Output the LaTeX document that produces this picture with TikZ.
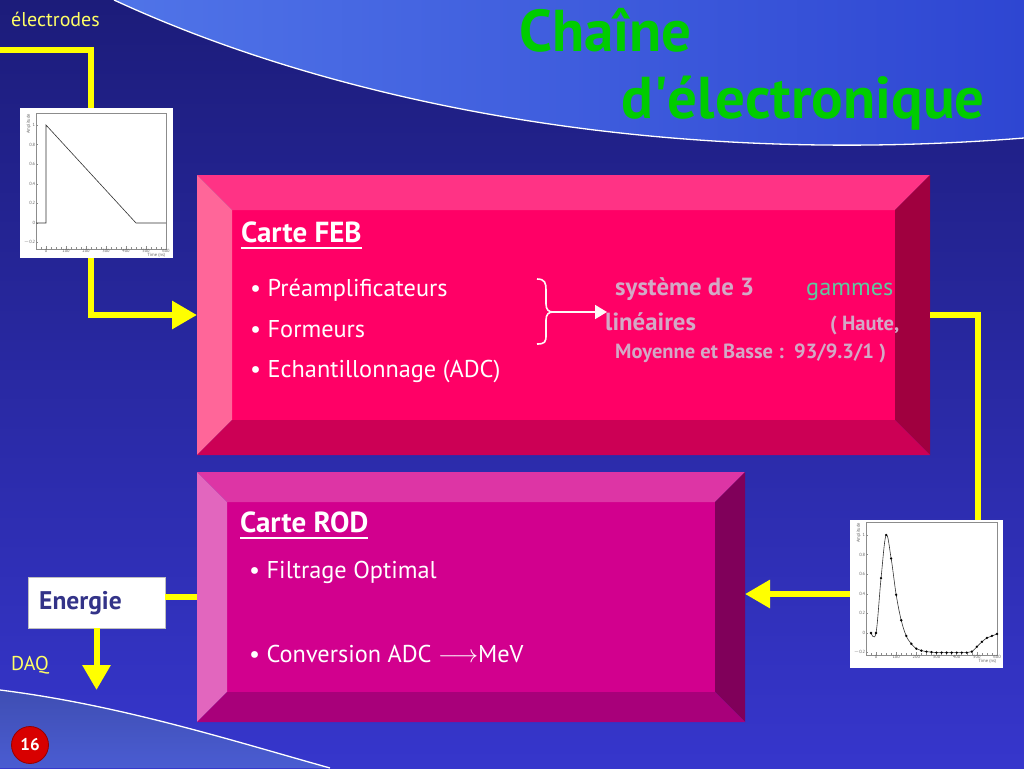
\documentclass[tikz,border=0pt]{standalone}
\usepackage{fontspec}
\usepackage{graphicx}
\setmainfont{PT Sans}
\usetikzlibrary{arrows.meta,calc}
\definecolor{bgtop}{HTML}{1C1C7A}
\definecolor{bgbot}{HTML}{3636CC}
\definecolor{toplA}{HTML}{5074E8}
\definecolor{toplB}{HTML}{2E46D2}
\definecolor{botl}{HTML}{4A5CD2}
\definecolor{yel}{HTML}{FFFF00}
\definecolor{yeltxt}{HTML}{FFFF66}
\definecolor{titlegreen}{HTML}{00CC00}
\definecolor{febface}{HTML}{FF0066}
\definecolor{febtop}{HTML}{FF3385}
\definecolor{febleft}{HTML}{FF6699}
\definecolor{febright}{HTML}{A0003F}
\definecolor{febbot}{HTML}{CC0055}
\definecolor{rodface}{HTML}{D2008E}
\definecolor{rodtop}{HTML}{DD35A5}
\definecolor{rodleft}{HTML}{E266BE}
\definecolor{rodright}{HTML}{80005A}
\definecolor{rodbot}{HTML}{A8007A}
\definecolor{greytxt}{HTML}{D3A9C6}
\definecolor{gamtxt}{HTML}{5FC8A0}
\definecolor{energtxt}{HTML}{333388}
\definecolor{pagered}{HTML}{D80000}
\newcommand\bevelpaint[7]{%
  \fill[#3] ([shift={(#2,#2)}]#1.north west) rectangle ([shift={(-#2,-#2)}]#1.south east);
  \fill[#4] (#1.north west) -- (#1.north east) -- ([shift={(-#2,#2)}]#1.north east) -- ([shift={(#2,#2)}]#1.north west) -- cycle;
  \fill[#5] (#1.north west) -- ([shift={(#2,#2)}]#1.north west) -- ([shift={(#2,-#2)}]#1.south west) -- (#1.south west) -- cycle;
  \fill[#6] (#1.north east) -- (#1.south east) -- ([shift={(-#2,-#2)}]#1.south east) -- ([shift={(-#2,#2)}]#1.north east) -- cycle;
  \fill[#7] (#1.south west) -- (#1.south east) -- ([shift={(-#2,-#2)}]#1.south east) -- ([shift={(#2,-#2)}]#1.south west) -- cycle;
}
\begin{document}
\begin{tikzpicture}[x=1pt,y=-1pt,
  boxnode/.style={inner sep=0pt, outer sep=0pt},
  txt/.style={anchor=base west, inner sep=0pt, text=white, font=\fontsize{24.3}{28}\selectfont},
  cardtitle/.style={anchor=base west, inner sep=0pt, text=white, font=\fontsize{29}{32}\selectfont\bfseries},
  greybold/.style={anchor=base west, inner sep=0pt, text=greytxt, font=\fontsize{24.8}{28}\selectfont\bfseries},
  greysmall/.style={anchor=base west, inner sep=0pt, text=greytxt, font=\fontsize{20.5}{22}\selectfont\bfseries},
  titletxt/.style={anchor=base west, inner sep=0pt, text=titlegreen, font=\fontsize{59}{62}\selectfont\bfseries},
  yeltext/.style={anchor=base west, inner sep=0pt, text=yeltxt, font=\fontsize{20}{24}\selectfont},
  conn/.style={draw=yel, line width=6pt},
  bigtip/.style={-{Triangle[length=25pt,width=27pt]}},
  plotbox/.style={fill=white, inner sep=0pt, outer sep=0pt},
  axisline/.style={draw=black!45, line width=0.5pt},
  ticklab/.style={inner sep=0.6pt, text=black!60, font=\fontsize{4.5}{5}\selectfont},
  curveline/.style={draw=black!80, line width=0.6pt}
]
\useasboundingbox (0,0) rectangle (1024,768);
% background
\shade[top color=bgtop, bottom color=bgbot] (0,0) rectangle (1024,768);
\shade[left color=toplA, right color=toplB] (114,0) .. controls (330,100) and (650,168) .. (1024,138) -- (1024,0) -- cycle;
\draw[white, line width=1.3pt] (114,0) .. controls (330,100) and (650,168) .. (1024,138);
\shade[top color=botl!85!black, bottom color=botl] (0,690) .. controls (120,705) and (230,740) .. (330,768) -- (0,768) -- cycle;
\draw[white, line width=1.3pt] (0,690) .. controls (120,705) and (230,740) .. (330,768);

% title
\node[titletxt] (title1) at (519,52) {Chaîne};
\node[titletxt] (title2) at (621,118) {d\textquotesingle électronique};

% boxes
\node[boxnode, minimum width=733pt, minimum height=280pt] (feb) at (563.5,315) {};
\bevelpaint{feb}{35}{febface}{febtop}{febleft}{febright}{febbot}
\node[boxnode, minimum width=548pt, minimum height=250pt] (rod) at (471,597) {};
\bevelpaint{rod}{30}{rodface}{rodtop}{rodleft}{rodright}{rodbot}

% energie box and plot 2 box
\node[boxnode, fill=white, draw=black!25, line width=0.6pt, minimum width=137pt, minimum height=51pt] (energie) at (96.5,602.5) {};
\node[anchor=base west, inner sep=0pt, text=energtxt, font=\fontsize{25.5}{28}\selectfont\bfseries] (energietxt) at (39,609) {Energie};
\node[plotbox, minimum width=153pt, minimum height=148pt] (plot2) at (926.5,594) {};

% connectors
\coordinate (elec) at (0,50);
\draw[conn, bigtip] (elec) -- ($(elec)+(91,0)$) |- (feb.west);
\draw[conn] (feb.east) -| ($(plot2.north east)+(-25,0)$);
\draw[conn, bigtip] (plot2.west) -- (plot2.west -| rod.east);
\draw[conn] (rod.west) -- (rod.west -| energie.east);
\coordinate (daq) at (93,690);
\draw[conn, bigtip] (energie.south) -- (energie.south |- daq);

% labels électrodes / DAQ
\node[yeltext] (electxt) at (11,27) {électrodes};
\node[yeltext] (daqtxt) at (11,670) {DAQ};

% FEB card text
\node[cardtitle] (febtitle) at (241,242) {Carte FEB};
\draw[white, line width=2pt] ([yshift=-6pt]febtitle.base west) -- ([yshift=-6pt]febtitle.base east);
\node[txt] (feb1) at (250,296) {• Préamplificateurs};
\node[txt] (feb2) at (250,337) {• Formeurs};
\node[txt] (feb3) at (250,377) {• Echantillonnage (ADC)};

% brace and arrow
\coordinate (bracetip) at (553,312);
\coordinate (bracearrow) at (607,312);
\draw[white!88!pink, line width=1.6pt] (537,279) .. controls (545,279) and (546,283) .. (546,290) -- (546,304) .. controls (546,310) and (549,312) .. (bracetip) .. controls (549,312) and (546,314) .. (546,320) -- (546,335) .. controls (546,342) and (545,344) .. (537,344);
\draw[white!88!pink, line width=1.6pt, -{Triangle[length=12pt,width=14pt]}] (bracetip) -- (bracearrow);

\node[greybold] (sys) at (615,295) {système de 3};
\node[anchor=base west, inner sep=0pt, text=gamtxt, font=\fontsize{24.3}{28}\selectfont] (gam) at (806,295) {gammes};
\node[greybold] (lin) at (605,330) {linéaires};
\node[greysmall] (haute) at (830,330) {( Haute,};
\node[greysmall] (moy) at (615,358) {Moyenne et Basse :\ \ 93/9.3/1 )};

% ROD card text
\node[cardtitle] (rodtitle) at (240,532) {Carte ROD};
\draw[white, line width=2pt] ([yshift=-6pt]rodtitle.base west) -- ([yshift=-6pt]rodtitle.base east);
\node[txt] (rod1) at (249,578) {• Filtrage Optimal};
\node[txt] (rod2) at (249,662) {• Conversion ADC \(\longrightarrow\)MeV};

% page number
\node[circle, fill=pagered, draw=pagered!70!black, line width=0.8pt, minimum size=37pt, inner sep=0pt, text=white, font=\fontsize{17}{18}\selectfont\bfseries] (pagenum) at (30,745) {16};

% plot 1 (triangular pulse)
\node[plotbox, minimum width=153pt, minimum height=150pt] (plot1) at (96.5,183) {};
\begin{scope}[shift={(46,223)}, x=0.2pt, y=98pt]
  \draw[axisline] (-50,-0.265) rectangle (600,1.122);
  \foreach \xx in {0,100,...,600} {
    \draw[axisline] (\xx,-0.265) -- ++(0,0.035);
    \node[ticklab, anchor=north] at (\xx,-0.265) {\xx};
  }
  \foreach \xx in {-25,25,50,75,125,150,175,225,250,275,325,350,375,425,450,475,525,550,575} {
    \draw[axisline] (\xx,-0.265) -- ++(0,0.018);
  }
  \foreach \yy/\ll in {-0.2/{$-$0.2},0/0,0.2/0.2,0.4/0.4,0.6/0.6,0.8/0.8,1/1} {
    \draw[axisline] (-50,\yy) -- ++(12,0);
    \node[ticklab, anchor=east] at (-50,\yy) {\ll};
  }
  \node[ticklab, anchor=north east] at (600,-0.3) {Time (ns)};
  \node[ticklab, rotate=90, anchor=south east] at (-72,1.12) {Amplitude};
  \draw[curveline] (-50,0) -- (0,0) -- (0,1) -- (450,0) -- (600,0);
\end{scope}

% plot 2 (shaped pulse)
\begin{scope}[shift={(876,633)}, x=0.2017pt, y=98pt]
  \draw[axisline] (-50,-0.224) rectangle (600,1.133);
  \foreach \xx in {0,100,...,600} {
    \draw[axisline] (\xx,-0.224) -- ++(0,0.035);
    \node[ticklab, anchor=north] at (\xx,-0.224) {\xx};
  }
  \foreach \xx in {-25,25,50,75,125,150,175,225,250,275,325,350,375,425,450,475,525,550,575} {
    \draw[axisline] (\xx,-0.224) -- ++(0,0.018);
  }
  \foreach \yy/\ll in {-0.2/{$-$0.2},0/0,0.2/0.2,0.4/0.4,0.6/0.6,0.8/0.8,1/1} {
    \draw[axisline] (-50,\yy) -- ++(12,0);
    \node[ticklab, anchor=east] at (-50,\yy) {\ll};
  }
  \node[ticklab, anchor=north east] at (600,-0.26) {Time (ns)};
  \node[ticklab, rotate=90, anchor=south east] at (-72,1.13) {Amplitude};
  \draw[curveline, smooth, tension=0.6] plot coordinates {(-25,0) (0,0) (25,0.56) (50,1.0) (75,0.76) (100,0.39) (125,0.13) (150,-0.03) (175,-0.11) (200,-0.16) (225,-0.18) (250,-0.19) (275,-0.195) (300,-0.2) (350,-0.2) (400,-0.2) (450,-0.2) (475,-0.19) (500,-0.14) (525,-0.09) (550,-0.05) (575,-0.03) (600,-0.01)};
  \foreach \xx/\yy in {-25/0,0/0,25/0.56,50/1.0,75/0.76,100/0.39,125/0.13,150/-0.03,175/-0.11,200/-0.16,225/-0.18,250/-0.19,275/-0.195,300/-0.2,325/-0.2,350/-0.2,375/-0.2,400/-0.2,425/-0.2,450/-0.2,475/-0.19,500/-0.14,525/-0.09,550/-0.05,575/-0.03,600/-0.01} {
    \fill[black] (\xx,\yy) circle[radius=1.3pt];
  }
\end{scope}
\end{tikzpicture}
\end{document}
